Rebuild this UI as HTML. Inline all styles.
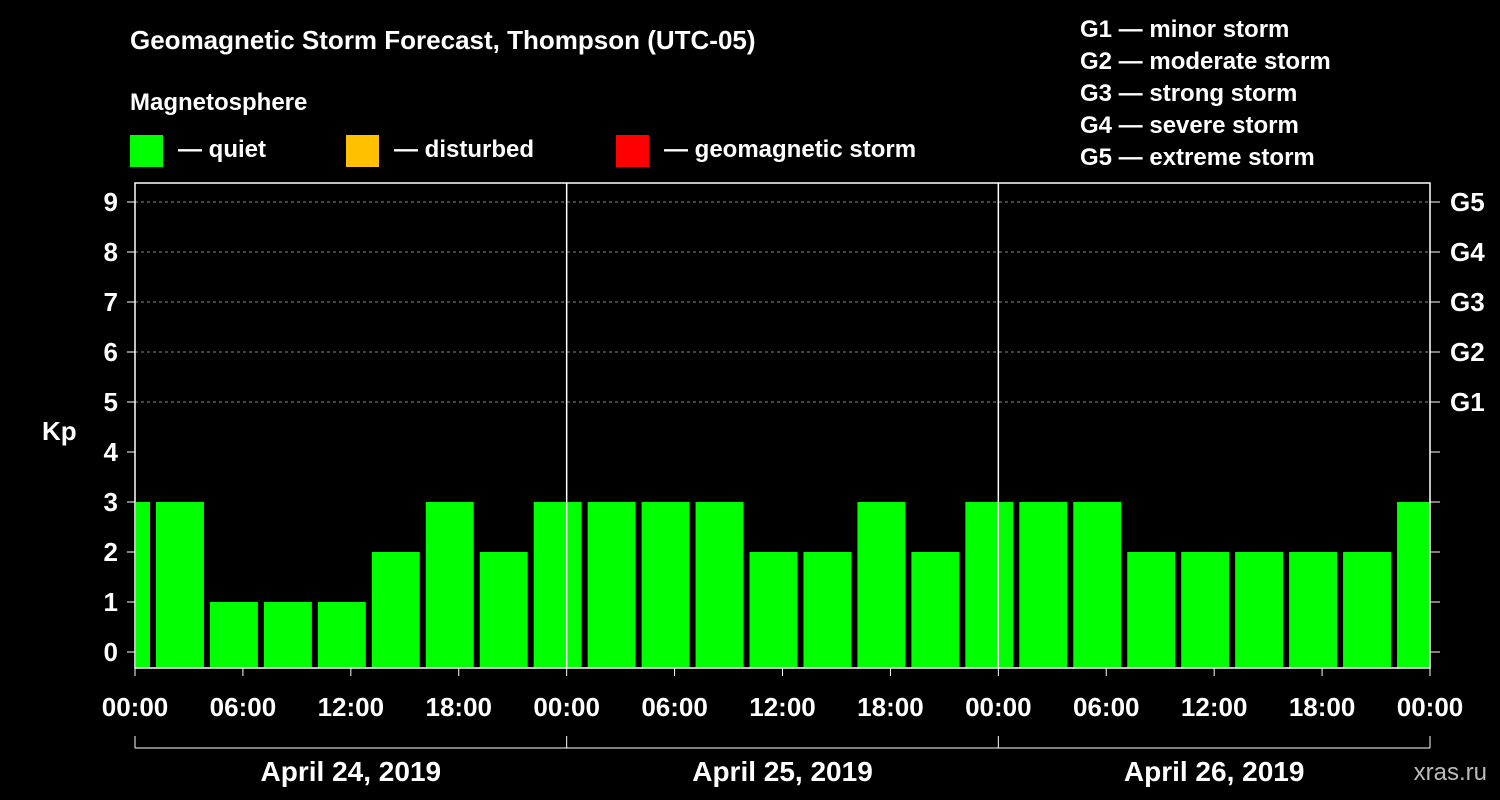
<!DOCTYPE html>
<html><head><meta charset="utf-8"><style>
body{margin:0;background:#000;}
svg{display:block;font-family:"Liberation Sans",sans-serif;font-weight:bold;}
</style></head><body>
<svg id="c" width="1500" height="800">
<text x="130" y="49" fill="#fff" font-size="26">Geomagnetic Storm Forecast, Thompson (UTC-05)</text>
<text x="130" y="110" fill="#fff" font-size="24">Magnetosphere</text>
<rect x="130" y="135" width="33" height="32" fill="#00ff00"/>
<text x="178" y="157" fill="#fff" font-size="24">— quiet</text>
<rect x="346" y="135" width="33" height="32" fill="#ffc000"/>
<text x="394" y="157" fill="#fff" font-size="24">— disturbed</text>
<rect x="616" y="135" width="33" height="32" fill="#ff0000"/>
<text x="664" y="157" fill="#fff" font-size="24">— geomagnetic storm</text>
<g fill="#fff" font-size="24">
<text x="1080" y="37">G1 — minor storm</text>
<text x="1080" y="69">G2 — moderate storm</text>
<text x="1080" y="101">G3 — strong storm</text>
<text x="1080" y="133">G4 — severe storm</text>
<text x="1080" y="165">G5 — extreme storm</text>
</g>
<text x="42" y="440" fill="#fff" font-size="26">Kp</text>
<text x="1487" y="780" fill="#bbb" font-size="24" text-anchor="end" font-weight="normal">xras.ru</text>
<g id="grid"></g><g id="bars"></g><g id="axes"></g>
</svg>
<script>
const kpValues=[3,3,1,1,1,2,3,2,3,3,3,3,2,2,3,2,3,3,3,2,2,2,2,2,3];
const yTicks=[0,1,2,3,4,5,6,7,8,9];
const gLabels=["G1","G2","G3","G4","G5"];
const xTickLabels=["00:00","06:00","12:00","18:00","00:00","06:00","12:00","18:00","00:00","06:00","12:00","18:00","00:00"];
const dayLabels=["April 24, 2019","April 25, 2019","April 26, 2019"];
const startHour=-2, blockHours=3;
const NS="http://www.w3.org/2000/svg";
const X0=135,X1=1430,PX_H=(X1-X0)/72,BOT=668,TOP=183;
const x=h=>X0+h*PX_H, y=v=>652-v*50;
function mk(t,a,p){const e=document.createElementNS(NS,t);for(const k in a)e.setAttribute(k,a[k]);p.appendChild(e);return e;}
const grid=document.getElementById('grid'),bars=document.getElementById('bars'),axes=document.getElementById('axes');
yTicks.forEach(v=>{
 if(v>=5){const l=mk('line',{x1:X0,x2:X1,y1:y(v),y2:y(v),stroke:'#888','stroke-dasharray':'3,3','stroke-width':1},grid);
 
 }
 const t=mk('text',{x:118,y:y(v)+9,fill:'#fff','font-size':26,'text-anchor':'end'},axes);t.textContent=v;
 
 
 mk('line',{x1:X0-8,x2:X0,y1:y(v),y2:y(v),stroke:'#fff'},axes);
 mk('line',{x1:X1,x2:X1+10,y1:y(v),y2:y(v),stroke:'#fff'},axes);
});
gLabels.forEach((g,i)=>{const t=mk('text',{x:1450,y:y(5+i)+9,fill:'#fff','font-size':26},axes);t.textContent=g;
 
 });
kpValues.forEach((v,i)=>{
 let a=x(startHour+i*blockHours)+3,b=x(startHour+(i+1)*blockHours)-3;
 a=Math.max(a,X0+1);b=Math.min(b,X1);
 const c=v>=5?'#ff0000':(v>=4?'#ffc000':'#00ff00');
 const r=mk('rect',{x:a,y:y(v),width:b-a,height:BOT-y(v),fill:c},bars);
 
 
});
mk('rect',{x:X0,y:TOP,width:X1-X0,height:BOT-TOP,fill:'none',stroke:'#fff','stroke-width':1.5},axes);
[1,2].forEach(d=>{const l=mk('line',{x1:x(d*24),x2:x(d*24),y1:TOP,y2:BOT,stroke:'#fff','stroke-width':1.5},axes);
 
 });
xTickLabels.forEach((s,i)=>{const h=i*6;
 mk('line',{x1:x(h),x2:x(h),y1:BOT,y2:BOT+8,stroke:'#fff'},axes);
 const t=mk('text',{x:x(h),y:716,fill:'#fff','font-size':26,'text-anchor':'middle'},axes);t.textContent=s;
 
 });
mk('line',{x1:X0,x2:X1,y1:748,y2:748,stroke:'#fff'},axes);
[0,1,2,3].forEach(d=>mk('line',{x1:x(d*24),x2:x(d*24),y1:736,y2:748,stroke:'#fff'},axes));
dayLabels.forEach((s,i)=>{const t=mk('text',{x:x(i*24+12),y:781,fill:'#fff','font-size':28,'text-anchor':'middle'},axes);t.textContent=s;
 
 });
</script>
</body></html>
